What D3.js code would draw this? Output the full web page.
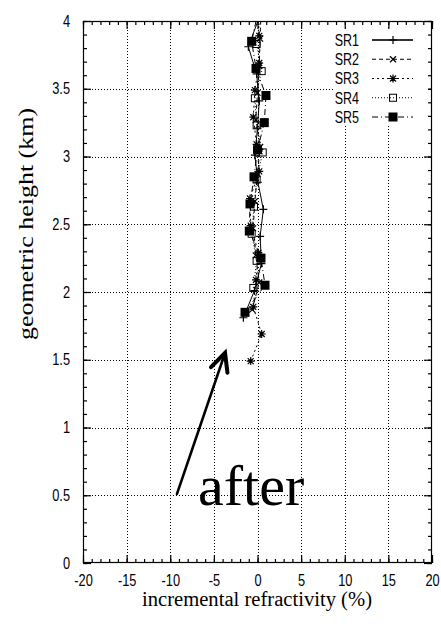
<!DOCTYPE html>
<html>
<head>
<meta charset="utf-8">
<script src="https://cdn.jsdelivr.net/npm/d3@7"></script>
<style>
  html, body { margin: 0; padding: 0; background: #fff; }
  svg { display: block; }
</style>
</head>
<body>
<svg id="chart" width="441" height="624"></svg>
<script>
// ---------------- data ----------------
const xTicks = [-20, -15, -10, -5, 0, 5, 10, 15, 20];
const yTicks = [0, 0.5, 1, 1.5, 2, 2.5, 3, 3.5, 4];
const seriesNames = ["SR1", "SR2", "SR3", "SR4", "SR5"];

const sr1Height = [1.81, 2.01, 2.21, 2.41, 2.61, 2.81, 3.01, 3.21, 3.41, 3.61, 3.81, 4.01];
const sr1Value  = [-1.62, -0.35, 0.45, 0.3, 0.67, 0.05, -0.3, 0.0, 0.2, -0.1, -1.05, 0.1];

const sr2Height = [1.87, 2.07, 2.27, 2.47, 2.67, 2.87, 3.07, 3.27, 3.47, 3.67, 3.87, 4.07];
const sr2Value  = [-0.6, 0.2, -0.2, -0.5, -0.3, 0.0, 0.3, -0.2, 0.0, 0.2, 0.3, 0.4];

const sr3Height = [1.49, 1.69, 1.89, 2.09, 2.29, 2.49, 2.69, 2.89, 3.09, 3.29, 3.49, 3.69, 3.89, 4.09];
const sr3Value  = [-0.78, 0.48, -0.48, -0.17, 0.1, -0.78, -0.86, 0.2, -0.1, -0.48, -0.3, 0.2, 0.2, 0.0];

const sr4Height = [2.03, 2.23, 2.43, 2.63, 2.83, 3.03, 3.23, 3.43, 3.63, 3.83, 4.03];
const sr4Value  = [-0.48, -0.1, -0.67, -0.4, -0.1, 0.6, -0.1, -0.3, 0.48, -0.1, 0.3];

const sr5Height = [1.85, 2.05, 2.25, 2.45, 2.65, 2.85, 3.05, 3.25, 3.45, 3.65, 3.85, 4.05];
const sr5Value  = [-1.43, 0.86, 0.4, -0.94, -0.86, -0.4, 0.0, 0.78, 0.97, -0.17, -0.67, 0.0];

// annotation (data units)
const arrowStart = [-9.23, 0.51];
const arrowTip = [-3.72, 1.55];
const annotText = "after";
const annotPos = [-6.82, 0.43];

// ---------------- layout ----------------
const svg = d3.select("#chart");
const L = 83, R = 432, T = 21, B = 563;
const x = d3.scaleLinear().domain([-20, 20]).range([L, R]);
const y = d3.scaleLinear().domain([0, 4]).range([B, T]);

// horizontally condense a text element around its anchor point
function squeeze(sel, f) {
  sel.each(function () {
    const t = d3.select(this);
    const tx = +(t.attr("x") || 0), ty = +(t.attr("y") || 0);
    t.attr("x", 0).attr("y", ty).attr("transform", `translate(${tx},0) scale(${f},1)`);
  });
}

// grid
const grid = svg.append("g").attr("stroke", "#000").attr("stroke-width", 1)
  .attr("stroke-dasharray", "1,2").attr("shape-rendering", "crispEdges");
grid.selectAll("line.gx").data(xTicks.slice(1, -1)).join("line")
  .attr("x1", d => Math.round(x(d)) + 0.5).attr("x2", d => Math.round(x(d)) + 0.5)
  .attr("y1", T).attr("y2", B);
grid.selectAll("line.gy").data(yTicks.slice(1, -1)).join("line")
  .attr("y1", d => Math.round(y(d)) + 0.5).attr("y2", d => Math.round(y(d)) + 0.5)
  .attr("x1", L).attr("x2", R);

// series
const series = [
  { name: "SR1", h: sr1Height, v: sr1Value, dash: null, marker: "plus" },
  { name: "SR2", h: sr2Height, v: sr2Value, dash: "4,3", marker: "cross" },
  { name: "SR3", h: sr3Height, v: sr3Value, dash: "2,3", marker: "star" },
  { name: "SR4", h: sr4Height, v: sr4Value, dash: "1,2", marker: "square" },
  { name: "SR5", h: sr5Height, v: sr5Value, dash: "6,3,1,3", marker: "fsquare" }
];

svg.append("defs").append("clipPath").attr("id", "clip")
  .append("rect").attr("x", L).attr("y", T).attr("width", R - L).attr("height", B - T);

const line = d3.line().x(d => x(d[0])).y(d => y(d[1]));

function drawMarker(g, type, cx, cy) {
  const s = 4;
  if (type === "plus") {
    g.append("path").attr("d", `M${cx - s},${cy}H${cx + s}M${cx},${cy - s}V${cy + s}`)
      .attr("stroke", "#000").attr("stroke-width", 1.2).attr("fill", "none");
  } else if (type === "cross") {
    const t = 3;
    g.append("path").attr("d", `M${cx - t},${cy - t}L${cx + t},${cy + t}M${cx - t},${cy + t}L${cx + t},${cy - t}`)
      .attr("stroke", "#000").attr("stroke-width", 1.2).attr("fill", "none");
  } else if (type === "star") {
    const t = 3;
    g.append("path").attr("d", `M${cx - s},${cy}H${cx + s}M${cx},${cy - s}V${cy + s}M${cx - t},${cy - t}L${cx + t},${cy + t}M${cx - t},${cy + t}L${cx + t},${cy - t}`)
      .attr("stroke", "#000").attr("stroke-width", 1.2).attr("fill", "none");
  } else if (type === "square") {
    g.append("rect").attr("x", cx - 3.5).attr("y", cy - 3.5).attr("width", 7).attr("height", 7)
      .attr("stroke", "#000").attr("stroke-width", 1).attr("fill", "none");
  } else if (type === "fsquare") {
    g.append("rect").attr("x", cx - 4.5).attr("y", cy - 4.5).attr("width", 9).attr("height", 9)
      .attr("fill", "#000");
  }
}

const plotG = svg.append("g").attr("clip-path", "url(#clip)");
series.forEach(s => {
  const pts = s.h.map((h, i) => [s.v[i], h]);
  plotG.append("path").attr("d", line(pts)).attr("fill", "none")
    .attr("stroke", "#000").attr("stroke-width", 1)
    .attr("stroke-dasharray", s.dash);
  const mg = plotG.append("g");
  pts.filter(p => p[1] <= 4).forEach(p => drawMarker(mg, s.marker, x(p[0]), y(p[1])));
});

// frame
svg.append("rect").attr("x", L + 0.5).attr("y", T + 0.5).attr("width", R - L - 1).attr("height", B - T - 1)
  .attr("fill", "none").attr("stroke", "#000").attr("stroke-width", 1.2);

// inward ticks
function tickAxis(axisFn, scale, values, size, transform) {
  const g = svg.append("g").attr("transform", transform)
    .call(axisFn(scale).tickValues(values).tickSize(size).tickFormat(""));
  g.select(".domain").remove();
  g.selectAll("line").attr("stroke", "#000").attr("stroke-width", 1.2);
}
const xMinor = d3.range(-20, 21, 1);
const yMinor = d3.range(0, 4.0001, 0.1);
tickAxis(d3.axisTop, x, xMinor, 4, `translate(0,${B})`);
tickAxis(d3.axisTop, x, xTicks, 8, `translate(0,${B})`);
tickAxis(d3.axisBottom, x, xMinor, 4, `translate(0,${T})`);
tickAxis(d3.axisBottom, x, xTicks, 8, `translate(0,${T})`);
tickAxis(d3.axisRight, y, yMinor, 4, `translate(${L},0)`);
tickAxis(d3.axisRight, y, yTicks, 8, `translate(${L},0)`);
tickAxis(d3.axisLeft, y, yMinor, 4, `translate(${R},0)`);
tickAxis(d3.axisLeft, y, yTicks, 8, `translate(${R},0)`);

// tick labels
const sans = "'Liberation Sans', Arial, Helvetica, sans-serif";
const xl = svg.append("g").attr("transform", `translate(0,${B})`)
  .call(d3.axisBottom(x).tickValues(xTicks).tickSize(0).tickPadding(12).tickFormat(d => String(d)));
xl.select(".domain").remove();
xl.selectAll("text").attr("font-family", sans).attr("font-size", 16).attr("fill", "#000");
squeeze(xl.selectAll("text"), 0.8);

const yl = svg.append("g").attr("transform", `translate(${L},0)`)
  .call(d3.axisLeft(y).tickValues(yTicks).tickSize(0).tickPadding(13).tickFormat(d => String(d)));
yl.select(".domain").remove();
yl.selectAll("text").attr("font-family", sans).attr("font-size", 16).attr("fill", "#000");
squeeze(yl.selectAll("text"), 0.8);

// axis titles
const serif = "'Liberation Serif', 'Times New Roman', serif";
svg.append("text").attr("x", 257).attr("y", 606).attr("text-anchor", "middle")
  .attr("font-family", serif).attr("font-size", 20).attr("fill", "#000")
  .attr("textLength", 230).attr("lengthAdjust", "spacingAndGlyphs")
  .text("incremental refractivity (%)");
svg.append("text").attr("transform", "translate(33,224) rotate(-90)").attr("text-anchor", "middle")
  .attr("font-family", serif).attr("font-size", 20).attr("fill", "#000")
  .attr("textLength", 232).attr("lengthAdjust", "spacingAndGlyphs")
  .text("geometric height (km)");

// legend
const lg = svg.append("g");
lg.append("rect").attr("x", 333).attr("y", 29).attr("width", 95).attr("height", 97).attr("fill", "#fff");
series.forEach((s, i) => {
  const cy = 40 + i * 19.25;
  const t = lg.append("text").attr("x", 359).attr("y", cy + 6).attr("text-anchor", "end")
    .attr("font-family", sans).attr("font-size", 16).attr("fill", "#000").text(s.name);
  squeeze(t, 0.78);
  lg.append("line").attr("x1", 372).attr("x2", 413).attr("y1", cy).attr("y2", cy)
    .attr("stroke", s.name === "SR1" ? "#333" : "#000").attr("stroke-width", s.name === "SR1" ? 1.8 : 1)
    .attr("stroke-dasharray", s.dash);
  drawMarker(lg, s.marker, 393, cy);
});

// annotation
const ax1 = x(arrowStart[0]), ay1 = y(arrowStart[1]);
const ax2 = x(arrowTip[0]), ay2 = y(arrowTip[1]);
svg.append("line").attr("x1", ax1).attr("y1", ay1).attr("x2", ax2).attr("y2", ay2)
  .attr("stroke", "#000").attr("stroke-width", 2.6).attr("stroke-linecap", "round");
const ang = Math.atan2(ay2 - ay1, ax2 - ax1);
const hl = 20, ha = 0.45;
const w1 = [ax2 - hl * Math.cos(ang - ha), ay2 - hl * Math.sin(ang - ha)];
const w2 = [ax2 - hl * Math.cos(ang + ha), ay2 - hl * Math.sin(ang + ha)];
svg.append("path").attr("d", `M${w1[0]},${w1[1]}L${ax2},${ay2}L${w2[0]},${w2[1]}`)
  .attr("fill", "none").attr("stroke", "#000").attr("stroke-width", 4)
  .attr("stroke-linecap", "round").attr("stroke-linejoin", "miter");
svg.append("text").attr("x", x(annotPos[0])).attr("y", y(annotPos[1]))
  .attr("font-family", serif).attr("font-size", 58).attr("fill", "#000")
  .text(annotText);
</script>
</body>
</html>
